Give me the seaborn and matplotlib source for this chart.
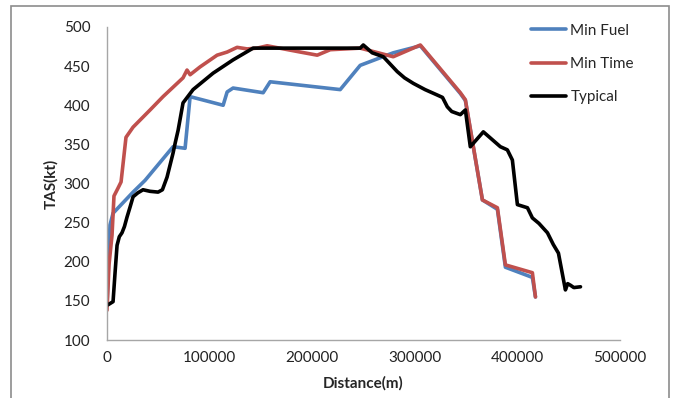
import numpy as np
import pandas as pd
import matplotlib
matplotlib.use("Agg")
import matplotlib.pyplot as plt
import seaborn as sns
from matplotlib.patches import Rectangle

# values (distance in m, TAS in kt)
fuel_dist = [0, 2900, 5900, 25400, 37100, 64400, 76100, 81000, 113200, 117100,
             122900, 152200, 159000, 227300, 244900, 246800, 279000, 305400,
             344400, 349300, 365900, 380500, 388300, 414600, 417600]
fuel_tas = [145, 247, 262, 289, 304, 347, 345, 411, 400, 417,
            422, 416, 430, 420, 448, 451, 467, 476,
            415, 406, 279, 267, 193, 180, 155]

time_dist = [0, 1950, 4900, 6800, 10700, 13700, 18500, 25400, 42000, 54600,
             74100, 78000, 81000, 90700, 107300, 117100, 126800, 136600, 146300,
             156100, 188300, 204900, 217600, 246800, 279000, 305400, 344400,
             349300, 365900, 380500, 388300, 414600, 417600]
time_tas = [138, 196, 234, 284, 294, 302, 359, 372, 394, 411,
            435, 445, 439, 449, 464, 468, 474, 472, 473,
            476, 468, 464, 471, 473, 462, 477, 416,
            407, 279, 269, 196, 186, 155]

typ_dist = [1000, 5900, 7800, 9800, 12000, 14600, 17000, 19500, 22500, 25400,
            30000, 35100, 42000, 49800, 54000, 58500, 64400, 66500, 69300, 74100,
            83900, 103400, 122900, 142400, 246800, 249800, 258500, 269300, 282900,
            290000, 298500, 310000, 322000, 327000, 331700, 336000, 344400, 349300,
            354100, 366800, 383400, 390200, 395100, 400000, 409800, 414600, 421000,
            429300, 435000, 440000, 446800, 449000, 451700, 455000, 461500]
typ_tas = [145, 149, 185, 221, 232, 237, 245, 257, 270, 283,
           288, 292, 290, 289, 292, 308, 339, 352, 368, 403,
           420, 441, 458, 473, 473, 477, 467, 462, 443,
           435, 428, 420, 413, 410, 398, 392, 388, 394,
           347, 366, 347, 343, 330, 273, 269, 256, 249,
           237, 222, 211, 164, 172, 170, 167, 168]

series_names = ["Min Fuel", "Min Time", "Typical"]
colors = ["#4F81BD", "#C0504D", "#000000"]

df = pd.concat([
    pd.DataFrame({"Distance": fuel_dist, "TAS": fuel_tas, "series": "Min Fuel"}),
    pd.DataFrame({"Distance": time_dist, "TAS": time_tas, "series": "Min Time"}),
    pd.DataFrame({"Distance": typ_dist, "TAS": typ_tas, "series": "Typical"}),
], ignore_index=True)

sns.set_style("white")
plt.rcParams["font.family"] = ["Lato", "DejaVu Sans"]

fig = plt.figure(figsize=(6.74, 3.98), dpi=100)
ax = fig.add_axes([107 / 674, 1 - 340 / 398, (620 - 107) / 674, (340 - 27) / 398])

sns.lineplot(
    data=df, x="Distance", y="TAS", hue="series", hue_order=series_names,
    palette=colors, sort=False, estimator=None, linewidth=2.6, ax=ax,
)

ax.set_xlim(0, 500000)
ax.set_ylim(100, 500)
ax.set_xticks(np.arange(0, 500001, 100000))
ax.set_yticks(np.arange(100, 501, 50))
ax.tick_params(axis="both", length=0, labelsize=11, colors="#222222")
ax.tick_params(axis="y", pad=12)
ax.tick_params(axis="x", pad=8)
for s in ["top", "right"]:
    ax.spines[s].set_visible(False)
for s in ["left", "bottom"]:
    ax.spines[s].set_color("#A6A6A6")
    ax.spines[s].set_linewidth(1)
ax.set_xlabel("Distance(m)", fontsize=11, fontweight="bold", labelpad=8)
ax.set_ylabel("TAS(kt)", fontsize=11, fontweight="bold", labelpad=4)

handles, labels = ax.get_legend_handles_labels()
ax.legend(handles, labels, loc="upper left", bbox_to_anchor=(517 / 674, 1 - 10 / 398),
          bbox_transform=fig.transFigure, frameon=False, fontsize=11,
          handlelength=2.3, handletextpad=0.3, labelspacing=1.25)

# chart area border
fig.patches.append(Rectangle((11 / 674, -0.02), (669 - 11) / 674, 1.02 - 6 / 398,
                             transform=fig.transFigure, fill=False,
                             edgecolor="#8C8C8C", linewidth=1.2))

fig.savefig("out.png", dpi=100)
